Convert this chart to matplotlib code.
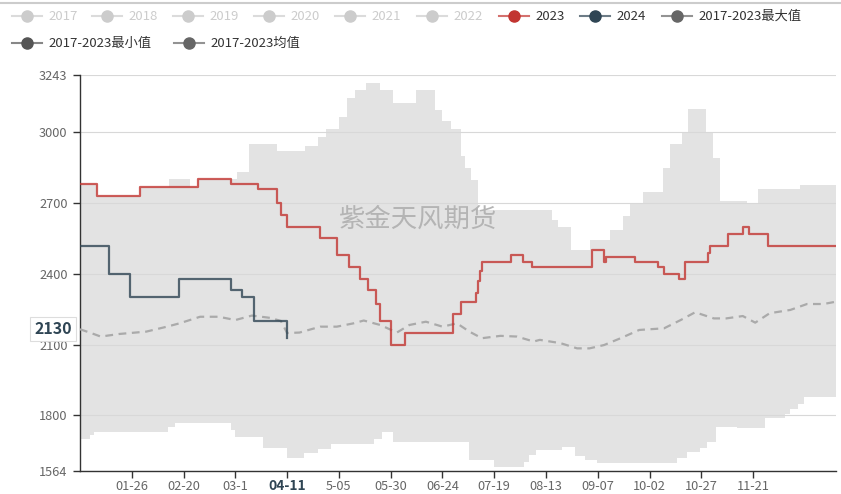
import numpy as np
import matplotlib
matplotlib.use('Agg')
import matplotlib.pyplot as plt
from matplotlib.lines import Line2D
from matplotlib.transforms import ScaledTranslation

plt.rcParams['font.family'] = ['Noto Sans CJK SC', 'DejaVu Sans']

# ---------------- data ----------------
# x axis: day index within the year (0..365)
tick_days = [25, 50, 75, 100, 125, 150, 175, 200, 225, 250, 275, 300, 325]
tick_labels = ['01-26', '02-20', '03-1', '04-11', '5-05', '05-30', '06-24',
               '07-19', '08-13', '09-07', '10-02', '10-27', '11-21']
current_label = '04-11'
current_value = 2130
y_ticks = [1564, 1800, 2100, 2400, 2700, 3000, 3243]

# 2023 series (change points: day, value)
s2023_days = [0, 8, 29, 57, 73, 86, 95, 97, 100, 116, 124, 130, 135, 139, 143, 145,
              150, 157, 180, 184, 191, 192, 193, 194, 208, 214, 218, 247, 253, 254,
              268, 279, 282, 289, 292, 303, 304, 313, 320, 323, 332, 365]
s2023_vals = [2780, 2730, 2770, 2800, 2780, 2760, 2700, 2650, 2600, 2550, 2480, 2430,
              2380, 2330, 2270, 2200, 2100, 2150, 2230, 2280, 2320, 2370, 2410, 2450,
              2480, 2450, 2430, 2500, 2450, 2470, 2450, 2430, 2400, 2380, 2450, 2490,
              2520, 2570, 2600, 2570, 2520, 2520]

# 2024 series (change points: day, value)
s2024_days = [0, 14, 24, 48, 73, 78, 84, 100]
s2024_vals = [2520, 2400, 2300, 2380, 2330, 2300, 2200, 2130]

# 2017-2023 mean
mean_days = [0, 5, 10, 19, 32, 42, 48, 58, 67, 75, 83, 92, 97, 100, 106, 116, 124, 132,
             137, 145, 153, 159, 167, 175, 182, 188, 194, 203, 211, 219, 222, 232, 240,
             246, 253, 261, 270, 282, 290, 297, 306, 312, 320, 326, 333, 343, 351, 359, 365]
mean_vals = [2165, 2150, 2134, 2145, 2155, 2176, 2190, 2218, 2218, 2204, 2223, 2213, 2200,
             2149, 2151, 2176, 2176, 2190, 2202, 2183, 2151, 2183, 2197, 2176, 2190, 2155,
             2127, 2137, 2134, 2113, 2120, 2106, 2084, 2084, 2098, 2127, 2162, 2169, 2204,
             2237, 2211, 2211, 2221, 2193, 2233, 2247, 2272, 2272, 2282]

# 2017-2023 max (change points)
max_days = [0, 8, 29, 43, 53, 57, 76, 81.5, 95, 108.5, 115, 119, 125, 129, 133, 138, 145,
            151, 162, 171.5, 175, 179, 184, 186, 188.6, 192.3, 228, 231, 237, 246, 256,
            262, 265.7, 271.7, 281.6, 285, 290.5, 293.7, 302, 305.8, 309, 322, 327.5, 347.7]
max_vals = [2780, 2730, 2770, 2800, 2770, 2800, 2830, 2950, 2920, 2940, 2980, 3015, 3066,
            3144, 3179, 3208, 3179, 3126, 3179, 3095, 3048, 3015, 2900, 2847, 2798, 2670,
            2628, 2597, 2500, 2545, 2586, 2647, 2695, 2746, 2847, 2949, 2998, 3097, 2998,
            2890, 2710, 2699, 2758, 2777]

# 2017-2023 min (change points)
min_days = [0, 4.7, 7, 42.5, 45.7, 73, 75, 88.4, 100, 108, 115, 121, 142, 146, 151, 187.7,
            200, 214.4, 217, 220, 232.6, 239, 244, 249.5, 288, 293, 299.4, 302.6, 307, 317,
            330.5, 340.4, 342.8, 346.8, 349.5]
min_vals = [1699, 1717, 1728, 1752, 1769, 1738, 1710, 1661, 1621, 1639, 1658, 1677, 1700,
            1728, 1689, 1611, 1580, 1604, 1632, 1653, 1667, 1628, 1611, 1600, 1618, 1646,
            1661, 1689, 1752, 1748, 1788, 1805, 1827, 1848, 1877]

legend_names = ['2017', '2018', '2019', '2020', '2021', '2022', '2023', '2024',
                '2017-2023最大值', '2017-2023最小值', '2017-2023均值']
watermark = '紫金天风期货'

# ---------------- style / layout ----------------
W, H = 841, 494
C_RED = '#c23531'
C_BLUE = '#2f4554'
C_BAND = '#e3e3e3'
C_MEAN = '#aaaaaa'
X_END = 365

fig = plt.figure(figsize=(W / 100, H / 100), dpi=100)
ax = fig.add_axes([80 / W, 23 / H, 756 / W, 396 / H])
ax.set_xlim(0, X_END)
ax.set_ylim(y_ticks[0], y_ticks[-1])


def step_at(xs, ys, grid):
    xs = np.asarray(xs, float)
    ys = np.asarray(ys, float)
    idx = np.searchsorted(xs, grid, side='right') - 1
    return ys[np.clip(idx, 0, len(ys) - 1)]


grid = np.union1d(np.union1d(max_days, min_days), [X_END])
upper = step_at(max_days, max_vals, grid)
lower = step_at(min_days, min_vals, grid)
ax.fill_between(grid, lower, upper, step='post', color=C_BAND, lw=0, zorder=1)

ax.set_yticks(y_ticks)
ax.yaxis.grid(True, color='#d8d8d8', lw=0.8)
ax.set_xticks(tick_days)
ax.set_xticklabels(tick_labels)

for s in ['top', 'right']:
    ax.spines[s].set_visible(False)
for s in ['left', 'bottom']:
    ax.spines[s].set_color('#333333')
    ax.spines[s].set_linewidth(1.0)
ax.tick_params(axis='both', direction='out', length=5, width=1, color='#333333',
               labelcolor='#666666', labelsize=9.2)
ax.tick_params(axis='x', pad=1.5)
ax.tick_params(axis='y', pad=4)

for lab in ax.get_xticklabels():
    if lab.get_text() == current_label:
        lab.set_fontweight('bold')
        lab.set_fontsize(10)
        lab.set_color(C_BLUE)
        lab.set_transform(lab.get_transform() + ScaledTranslation(0, 1 / 100, fig.dpi_scale_trans))

# series
ax.plot(mean_days, mean_vals, color=C_MEAN, lw=1.6, dashes=(3.5, 2.5), zorder=3)
ax.step(s2023_days, s2023_vals, where='post', color=C_RED, alpha=0.8, lw=1.6, zorder=4)
ax.step(s2024_days, s2024_vals, where='post', color=C_BLUE, alpha=0.8, lw=1.6, zorder=5)

# y axis pointer label
ax.annotate(str(current_value), xy=(0, current_value), xycoords=('axes fraction', 'data'),
            xytext=(-6, 6), textcoords='offset points', ha='right', va='center',
            fontsize=11.5, fontweight='bold', color=C_BLUE, zorder=10,
            bbox=dict(boxstyle='square,pad=0.25', fc='white', ec='#dddddd', lw=0.8),
            annotation_clip=False)

# watermark
ax.text(0.447, 0.635, watermark, transform=ax.transAxes, ha='center', va='center',
        fontsize=19, color='#b4b4b4', zorder=6)

# top border
fig.add_artist(Line2D([0, 1], [1 - 3 / H] * 2, color='#cccccc', lw=1.5,
                      transform=fig.transFigure))

# legend
leg_pos = [(27, 16), (107, 16), (188, 16), (269, 16), (350, 16), (432, 16),
           (514, 16), (595, 16), (677, 16), (27, 43), (189, 43)]
leg_colors = ['#cccccc'] * 6 + [C_RED, C_BLUE, '#666666', '#555555', '#666666']
leg_text_colors = ['#cccccc'] * 6 + ['#333333'] * 5
for name, (xm, yp), col, tcol in zip(legend_names, leg_pos, leg_colors, leg_text_colors):
    yf = 1 - yp / H
    fig.add_artist(Line2D([(xm - 15) / W, (xm + 15) / W], [yf, yf], color=col, lw=1.5,
                          alpha=0.7, transform=fig.transFigure))
    fig.add_artist(Line2D([xm / W], [yf], marker='o', ms=8, color=col, mec=col, lw=0,
                          transform=fig.transFigure))
    fig.text((xm + 21) / W, yf, name, ha='left', va='center', fontsize=9.5, color=tcol)

fig.savefig('out.png', dpi=100)
